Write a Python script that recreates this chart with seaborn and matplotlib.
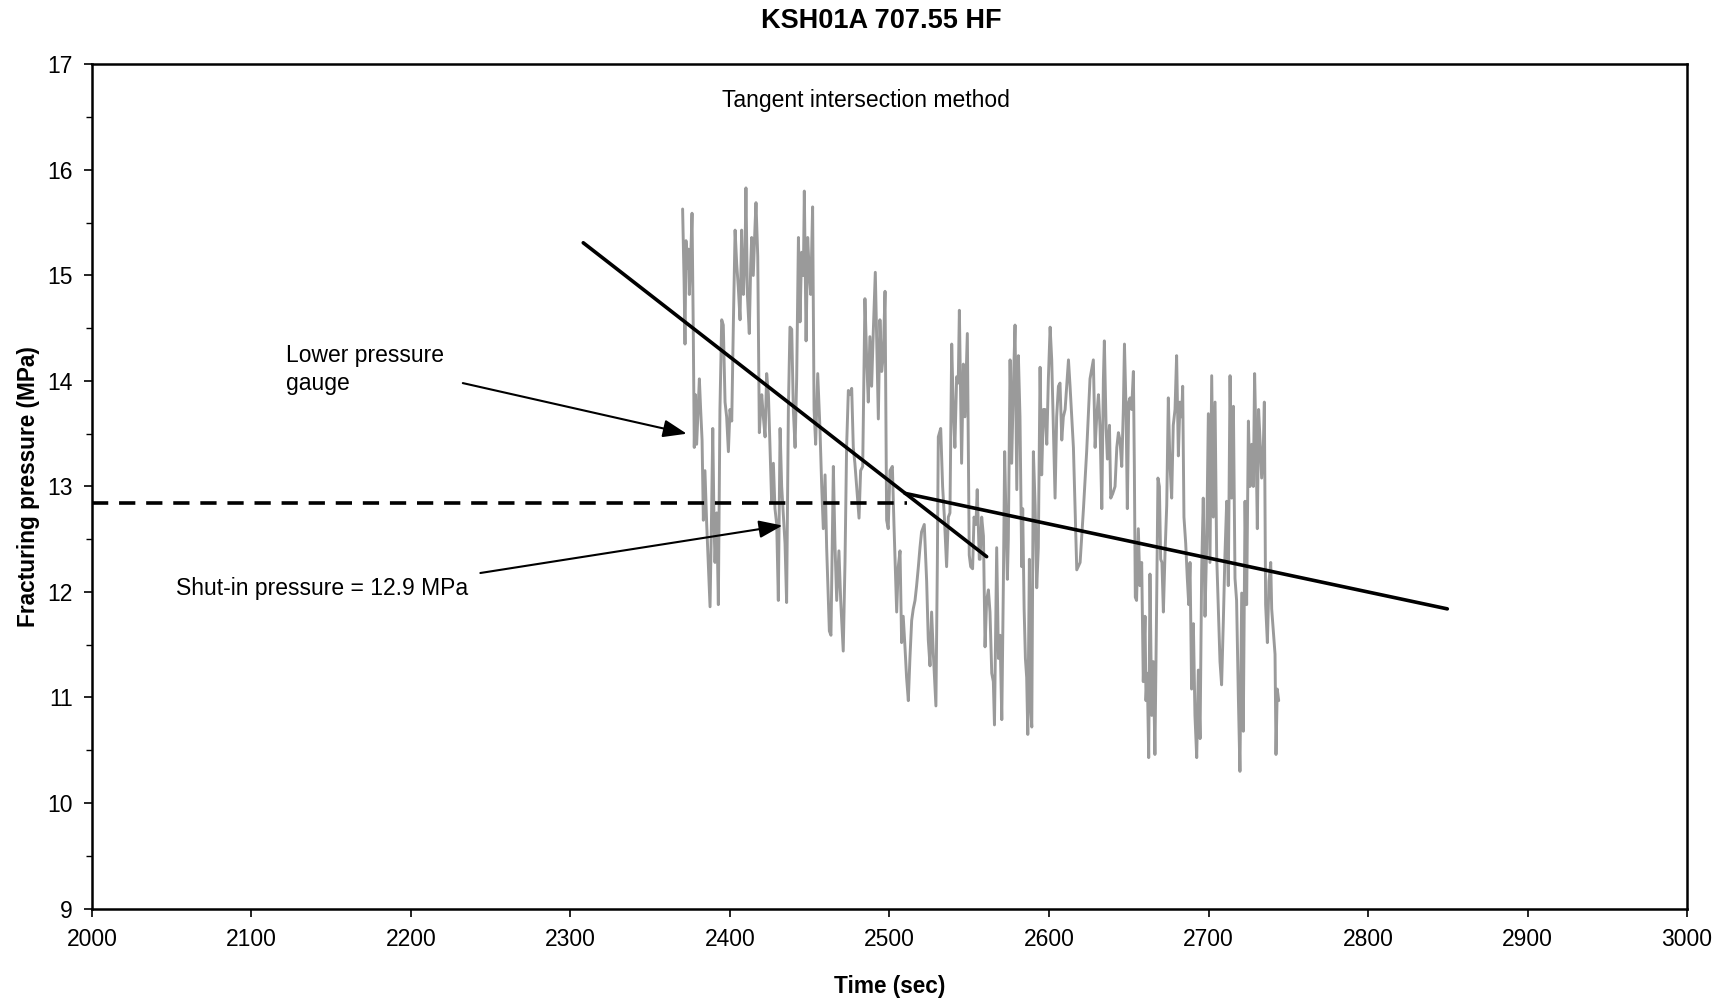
import matplotlib
matplotlib.use("Agg")
import matplotlib.pyplot as plt
from matplotlib.ticker import MultipleLocator
import seaborn as sns
import pandas as pd

# ---- data ----
time_s = [
    2370.3, 2371.2, 2371.8, 2372.4, 2373.3, 2373.9, 2374.5, 2375.4, 2376.2, 2377.0,
    2377.6, 2378.3, 2379.1, 2380.8, 2381.6, 2382.5, 2383.3, 2384.3, 2385.4, 2386.4,
    2387.5, 2388.5, 2389.2, 2390.0, 2390.6, 2391.7, 2392.7, 2393.7, 2394.8, 2395.8,
    2396.9, 2397.9, 2399.0, 2400.0, 2401.1, 2402.1, 2403.2, 2404.2, 2405.2, 2406.3,
    2407.3, 2408.4, 2409.4, 2410.0, 2410.9, 2412.1, 2413.0, 2413.6, 2414.6, 2415.7,
    2416.3, 2417.4, 2418.4, 2419.2, 2419.9, 2420.9, 2422.0, 2423.0, 2424.1, 2425.1,
    2426.1, 2427.2, 2428.2, 2429.3, 2430.3, 2431.4, 2432.4, 2433.5, 2434.5, 2435.5,
    2436.6, 2437.6, 2438.7, 2439.7, 2440.8, 2441.8, 2442.9, 2443.9, 2444.9, 2446.0,
    2446.6, 2447.7, 2448.7, 2449.8, 2450.6, 2451.8, 2452.7, 2453.7, 2455.0, 2456.4,
    2457.5, 2458.5, 2459.6, 2460.6, 2461.7, 2462.3,
    2463.3, 2464.8, 2465.8, 2466.9, 2468.3, 2469.4, 2471.0, 2472.1, 2473.1, 2474.2,
    2475.2, 2476.3, 2477.3, 2478.3, 2479.4, 2480.9, 2481.9, 2483.2, 2484.6, 2485.7,
    2486.7, 2487.7, 2488.8, 2489.8, 2491.1, 2491.9, 2493.0, 2494.0, 2495.1, 2496.1,
    2497.2, 2498.2, 2499.2, 2500.3, 2501.8, 2502.8, 2504.5, 2505.5, 2506.6, 2507.6,
    2508.6, 2509.7, 2510.7, 2511.8, 2512.8, 2513.9, 2514.9, 2516.0, 2517.0, 2518.1,
    2519.1, 2520.1, 2521.8, 2523.3, 2524.3, 2525.4, 2526.4, 2527.5, 2529.1, 2530.0,
    2530.6, 2532.1, 2533.3, 2534.4, 2535.8, 2536.9, 2537.9, 2539.0, 2540.0, 2541.0,
    2542.1, 2543.1, 2543.8, 2545.2, 2546.3, 2547.3, 2548.8, 2550.0, 2550.9, 2552.1,
    2553.0, 2554.2, 2555.0, 2556.3,
    2556.8, 2557.8, 2558.9, 2559.9, 2560.9, 2562.0, 2563.0, 2564.1, 2565.1, 2565.8,
    2567.2, 2568.3, 2569.3, 2570.4, 2571.4, 2572.2, 2573.1, 2573.9, 2574.5, 2575.6,
    2576.6, 2577.7, 2578.7, 2579.8, 2580.8, 2581.8, 2582.9, 2583.5, 2584.4, 2585.2,
    2586.0, 2586.7, 2587.7, 2588.5, 2589.2, 2590.2, 2591.3, 2592.3, 2593.3, 2594.4,
    2595.4, 2596.5, 2597.5, 2598.6, 2599.6, 2600.7, 2601.7, 2602.7, 2603.8, 2604.8,
    2605.9, 2606.9, 2608.0, 2609.0, 2610.1, 2611.1, 2612.2, 2613.2, 2615.3, 2617.4,
    2619.5, 2621.6, 2623.6, 2625.7, 2627.8, 2628.9, 2629.9, 2631.0, 2632.0, 2633.1,
    2634.1, 2634.7, 2635.8, 2636.6, 2637.9, 2638.7, 2639.9, 2641.4, 2642.5, 2643.5,
    2644.5, 2645.6, 2646.6, 2647.3, 2648.3, 2649.1, 2650.0, 2650.8,
    2651.8, 2652.9, 2653.5, 2654.1, 2654.9, 2656.0, 2657.0, 2658.1, 2659.1, 2660.2,
    2660.8, 2661.6, 2662.5, 2663.3, 2664.4, 2665.4, 2666.4, 2667.5, 2668.3, 2669.2,
    2670.0, 2670.8, 2671.7, 2672.7, 2673.8, 2674.8, 2675.8, 2676.9, 2677.9, 2679.0,
    2680.0, 2681.1, 2682.1, 2683.2, 2683.8, 2684.6, 2685.7, 2686.7, 2687.6, 2688.4,
    2689.4, 2690.5, 2691.5, 2692.6, 2693.6, 2694.7, 2695.7, 2696.7, 2697.8, 2698.8,
    2699.9, 2700.9, 2702.0, 2703.0, 2704.1, 2705.1, 2706.2, 2707.2, 2708.2, 2709.3,
    2710.3, 2711.4, 2712.4, 2713.5, 2714.5, 2715.6, 2716.6, 2717.6, 2718.7, 2719.7,
    2720.8, 2721.8, 2722.9, 2723.9, 2725.0, 2726.0, 2727.1, 2728.1, 2728.9, 2729.8,
    2730.6, 2731.4, 2732.3, 2733.3, 2734.4, 2735.0, 2735.8, 2736.9, 2737.9, 2739.0,
    2739.6, 2740.6, 2741.7, 2742.3, 2743.1, 2744.0,
]
pressure_mpa = [
    15.63, 14.96, 14.35, 15.33, 15.07, 15.25, 14.82, 15.18, 15.59, 14.45,
    13.37, 13.87, 13.40, 14.02, 13.73, 13.44, 12.68, 13.15, 12.64, 12.28,
    11.86, 12.79, 13.55, 12.64, 12.28, 12.75, 11.88, 13.73, 14.58, 14.53,
    13.80, 13.66, 13.33, 13.73, 13.62, 14.53, 15.43, 15.11, 14.89, 14.58,
    15.43, 14.82, 15.18, 15.83, 14.82, 14.45, 15.11, 15.36, 15.00, 15.47,
    15.69, 15.18, 13.51, 13.73, 13.87, 13.66, 13.47, 14.07, 13.87, 13.37,
    12.86, 13.22, 12.79, 12.64, 11.92, 13.55, 13.00, 12.71, 12.46, 11.90,
    13.73, 14.51, 14.49, 13.73, 13.37, 14.02, 15.36, 14.56, 15.22, 15.00,
    15.80, 14.38, 15.36, 15.00, 14.82, 15.65, 13.73, 13.40, 14.07, 13.55,
    13.00, 12.60, 13.11, 12.42, 11.92, 11.63,
    11.59, 13.19, 12.46, 11.92, 12.39, 11.92, 11.44, 12.28, 13.37, 13.91,
    13.87, 13.93, 13.37, 13.22, 13.00, 12.70, 13.15, 13.19, 14.78, 14.20,
    13.80, 14.42, 13.95, 14.45, 15.03, 14.45, 13.64, 14.58, 14.09, 14.24,
    14.85, 12.68, 12.60, 13.15, 13.19, 12.64, 11.81, 12.24, 12.39, 11.52,
    11.77, 11.48, 11.19, 10.97, 11.37, 11.73, 11.84, 11.92, 12.06, 12.24,
    12.42, 12.57, 12.64, 12.10, 11.55, 11.30, 11.81, 11.41, 10.92, 12.28,
    13.47, 13.55, 13.00, 12.71, 12.24, 12.71, 12.75, 14.35, 13.73, 13.37,
    14.04, 13.98, 14.67, 13.22, 14.16, 13.66, 14.45, 12.35, 12.24, 12.22,
    12.71, 12.64, 12.97, 12.31,
    12.31, 12.71, 12.53, 11.48, 11.92, 12.02, 11.81, 11.23, 11.15, 10.74,
    12.42, 11.37, 11.59, 10.79, 12.10, 13.33, 12.64, 12.12, 12.50, 14.20,
    13.22, 13.98, 14.53, 12.97, 14.24, 13.66, 12.24, 12.79, 11.84, 11.37,
    11.19, 10.65, 12.31, 10.90, 10.72, 13.33, 12.82, 12.04, 12.42, 14.13,
    13.11, 13.73, 13.73, 13.40, 14.02, 14.51, 14.20, 13.58, 12.89, 13.66,
    13.95, 13.98, 13.44, 13.66, 13.73, 13.95, 14.20, 13.95, 13.37, 12.21,
    12.28, 12.79, 13.33, 14.02, 14.20, 13.37, 13.66, 13.87, 13.55, 12.79,
    14.02, 14.38, 13.55, 13.26, 13.58, 12.89, 12.93, 13.00, 13.37, 13.51,
    13.44, 13.19, 13.73, 14.35, 13.73, 12.79, 13.80, 13.84,
    13.73, 14.09, 13.19, 11.95, 11.92, 12.60, 12.06, 12.28, 11.15, 11.77,
    10.97, 11.23, 10.43, 12.17, 10.83, 11.34, 10.46, 11.92, 13.08, 13.00,
    12.31, 12.28, 11.81, 12.35, 12.82, 13.84, 13.22, 12.89, 13.58, 13.73,
    14.24, 13.29, 13.80, 13.66, 13.95, 12.71, 12.46, 12.13, 11.88, 12.28,
    11.08, 11.70, 10.83, 10.43, 11.26, 10.61, 12.20, 12.89, 11.77, 12.42,
    13.69, 12.28, 14.05, 12.71, 13.80, 12.35, 11.81, 11.34, 11.12, 11.73,
    12.35, 12.86, 12.06, 14.05, 12.89, 13.76, 12.13, 11.92, 11.01, 10.30,
    11.99, 10.68, 12.86, 11.88, 13.62, 13.00, 13.40, 13.00, 14.07, 13.40,
    12.60, 13.73, 13.44, 13.08, 13.40, 13.80, 11.88, 11.52, 12.10, 12.28,
    11.84, 11.63, 11.41, 10.46, 11.08, 10.97,
]

# tangent lines (time, pressure) end points
tangent_early_t = [2308.0, 2560.9]
tangent_early_p = [15.31, 12.335]
tangent_late_t = [2509.7, 2849.7]
tangent_late_p = [12.935, 11.84]
# shut-in pressure level
shutin_t = [2000, 2510.8]
shutin_p = [12.84, 12.84]

x_ticks = [2000, 2100, 2200, 2300, 2400, 2500, 2600, 2700, 2800, 2900, 3000]
y_ticks = [9, 10, 11, 12, 13, 14, 15, 16, 17]

title = "KSH01A 707.55 HF"
x_label = "Time (sec)"
y_label = "Fracturing pressure (MPa)"
method_text = "Tangent intersection method"
gauge_text = "Lower pressure\ngauge"
shutin_text = "Shut-in pressure = 12.9 MPa"

# ---- plotting ----
sns.set_theme(style="ticks")
plt.rcParams["font.family"] = ["Liberation Sans", "DejaVu Sans"]
plt.rcParams["text.color"] = "black"
plt.rcParams["axes.labelcolor"] = "black"

fig = plt.figure(figsize=(17.22, 10.01), dpi=100)
ax = fig.add_axes([0.0534, 0.0924, 0.9263, 0.8432])

df = pd.DataFrame({"t": time_s, "p": pressure_mpa})
sns.lineplot(data=df, x="t", y="p", ax=ax, color="#9a9a9a", linewidth=2.1,
             sort=False, estimator=None)

sns.lineplot(x=tangent_early_t, y=tangent_early_p, ax=ax, color="black",
             linewidth=2.6, estimator=None, sort=False)
sns.lineplot(x=tangent_late_t, y=tangent_late_p, ax=ax, color="black",
             linewidth=2.6, estimator=None, sort=False)
ax.plot(shutin_t, shutin_p, color="black", linewidth=2.6, dashes=(4.5, 3.0))

ax.set_xlim(2000, 3000)
ax.set_ylim(9, 17)
ax.set_xticks(x_ticks)
ax.set_yticks(y_ticks)
ax.yaxis.set_minor_locator(MultipleLocator(0.5))
ax.tick_params(axis="both", which="major", direction="out", length=6, width=1.2,
               labelsize=16.5, colors="black", pad=8)
ax.tick_params(axis="y", which="minor", direction="out", length=4, width=1.0,
               colors="black")
for s in ax.spines.values():
    s.set_visible(True)
    s.set_linewidth(1.8)
    s.set_color("black")

ax.set_xlabel(x_label, fontsize=16.3, fontweight="bold", labelpad=17)
ax.set_ylabel(y_label, fontsize=16.3, fontweight="bold", labelpad=5)
fig.text(0.512, 0.979, title, ha="center", va="center", fontsize=19.5,
         fontweight="bold")

ax.text(2485, 16.66, method_text, ha="center", va="center", fontsize=16.5)
ax.text(2121.5, 14.11, gauge_text, ha="left", va="center", fontsize=16.5,
        linespacing=1.3)
ax.text(2052.8, 12.03, shutin_text, ha="left", va="center", fontsize=16.5)

arrow_kw = dict(arrowstyle="-|>,head_length=1.2,head_width=0.45", color="black",
                lw=1.5, shrinkA=0, shrinkB=0)
ax.annotate("", xy=(2372.9, 13.50), xytext=(2232.5, 13.98), arrowprops=arrow_kw)
ax.annotate("", xy=(2432.9, 12.63), xytext=(2243.5, 12.18), arrowprops=arrow_kw)

fig.savefig("out.png", dpi=100)
